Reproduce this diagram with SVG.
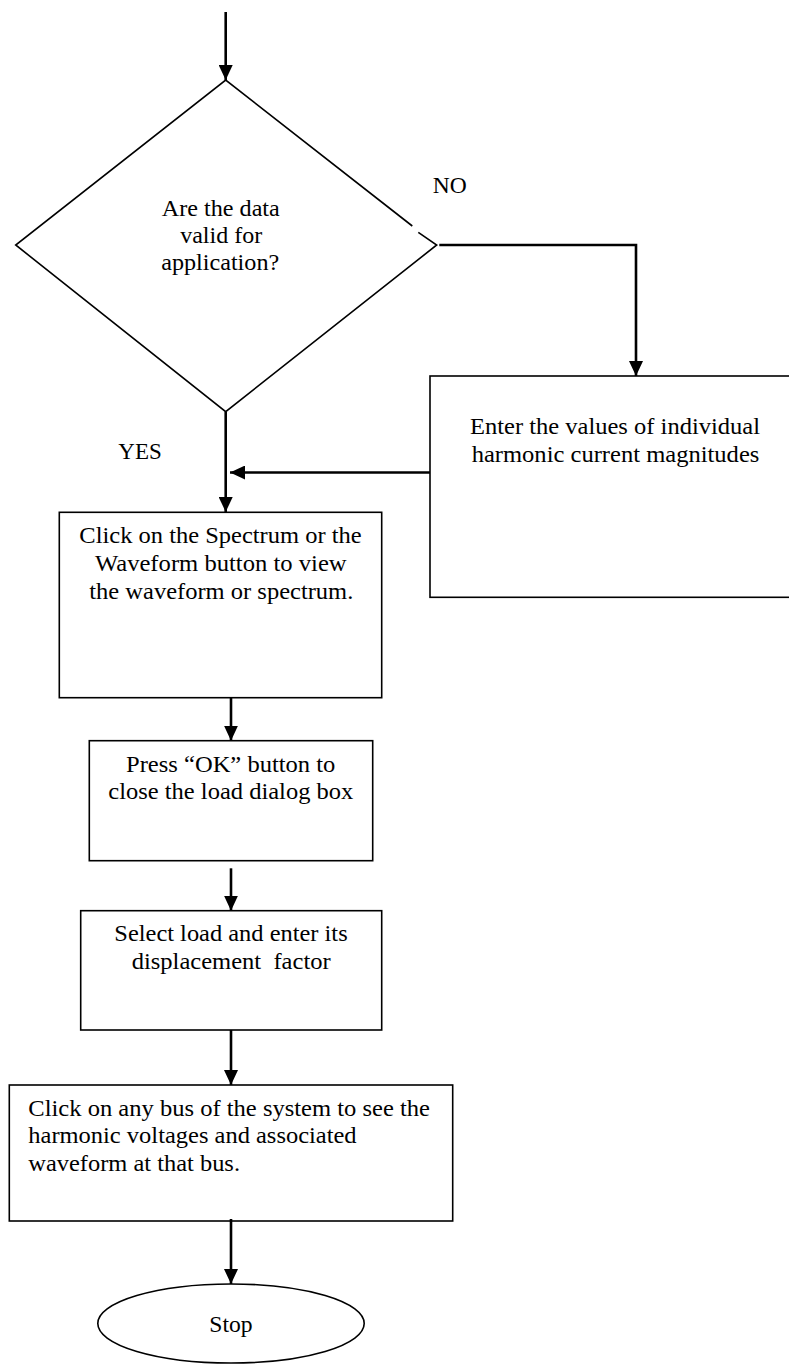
<svg xmlns="http://www.w3.org/2000/svg" width="789" height="1366" viewBox="0 0 789 1366">
<style>
.shape{fill:#ffffff;stroke:#000000;stroke-width:1.6}
.conn{fill:none;stroke:#000000;stroke-width:2.6}
text{font-family:"Liberation Serif","Times New Roman",serif;font-size:23px;fill:#000000;white-space:pre}
.c{text-anchor:middle}
</style>
<defs>
<marker id="arrow" markerUnits="userSpaceOnUse" viewBox="0 0 15 14" refX="15" refY="7" markerWidth="15" markerHeight="14" orient="auto">
<path d="M0,0 L15,7 L0,14 Z" fill="#000000"/>
</marker>
</defs>
<rect width="789" height="1366" fill="#ffffff"/>

<g id="decision">
<path class="shape" d="M418.3,232.3 L436.7,245 L225.7,411.7 L15.7,245 L225.7,80 L412.3,226" style="fill:none"/>
<text class="c" x="220.8" y="216" textLength="118" lengthAdjust="spacingAndGlyphs">Are the data</text>
<text class="c" x="221.2" y="242.5" textLength="82" lengthAdjust="spacingAndGlyphs">valid for</text>
<text class="c" x="220.2" y="269.5" textLength="118" lengthAdjust="spacingAndGlyphs">application?</text>
</g>

<g id="label-no">
<text x="432.7" y="193.3" textLength="34" lengthAdjust="spacingAndGlyphs">NO</text>
</g>
<g id="label-yes">
<text x="118.3" y="459.3" textLength="43.4" lengthAdjust="spacingAndGlyphs">YES</text>
</g>

<g id="enter-values">
<rect class="shape" x="430" y="376" width="380" height="221.3"/>
<text class="c" x="615" y="434" textLength="290" lengthAdjust="spacingAndGlyphs">Enter the values of individual</text>
<text class="c" x="615.5" y="461.7" textLength="287.7" lengthAdjust="spacingAndGlyphs">harmonic current magnitudes</text>
</g>

<g id="view-spectrum">
<rect class="shape" x="59.3" y="512.3" width="322.4" height="185.4"/>
<text class="c" x="220.5" y="543.3" textLength="282.3" lengthAdjust="spacingAndGlyphs">Click on the Spectrum or the</text>
<text class="c" x="220.8" y="570.7" textLength="251.7" lengthAdjust="spacingAndGlyphs">Waveform button to view</text>
<text class="c" x="221.3" y="599" textLength="264" lengthAdjust="spacingAndGlyphs">the waveform or spectrum.</text>
</g>

<g id="press-ok">
<rect class="shape" x="89.3" y="740.7" width="283.4" height="120"/>
<text class="c" x="230.7" y="771.7" textLength="209.3" lengthAdjust="spacingAndGlyphs">Press “OK” button to</text>
<text class="c" x="230.8" y="799.3" textLength="245" lengthAdjust="spacingAndGlyphs">close the load dialog box</text>
</g>

<g id="select-load">
<rect class="shape" x="80.7" y="910.7" width="301" height="119.3"/>
<text class="c" x="231" y="941" textLength="233.3" lengthAdjust="spacingAndGlyphs">Select load and enter its</text>
<text class="c" x="231.2" y="969" textLength="199" lengthAdjust="spacingAndGlyphs">displacement  factor</text>
</g>

<g id="click-bus">
<rect class="shape" x="9.3" y="1085" width="443.4" height="136"/>
<text x="28.3" y="1116" textLength="401.7" lengthAdjust="spacingAndGlyphs">Click on any bus of the system to see the</text>
<text x="28.3" y="1142.7" textLength="328.3" lengthAdjust="spacingAndGlyphs">harmonic voltages and associated</text>
<text x="28.3" y="1170.7" textLength="211.7" lengthAdjust="spacingAndGlyphs">waveform at that bus.</text>
</g>

<g id="stop">
<ellipse class="shape" cx="231" cy="1323.5" rx="133.2" ry="39.5"/>
<text class="c" x="231" y="1332" textLength="43.3" lengthAdjust="spacingAndGlyphs">Stop</text>
</g>

<g id="connectors">
<line class="conn" x1="225.7" y1="12" x2="225.7" y2="80" marker-end="url(#arrow)"/>
<line class="conn" x1="225.7" y1="411.7" x2="225.7" y2="512" marker-end="url(#arrow)"/>
<polyline class="conn" points="439.3,245 636,245 636,376" marker-end="url(#arrow)"/>
<line class="conn" x1="430" y1="472.5" x2="230" y2="472.5" marker-end="url(#arrow)"/>
<line class="conn" x1="231" y1="697.7" x2="231" y2="740.7" marker-end="url(#arrow)"/>
<line class="conn" x1="231" y1="868.3" x2="231" y2="910.7" marker-end="url(#arrow)"/>
<line class="conn" x1="231" y1="1030" x2="231" y2="1085" marker-end="url(#arrow)"/>
<line class="conn" x1="231" y1="1219" x2="231" y2="1284" marker-end="url(#arrow)"/>
</g>
</svg>
